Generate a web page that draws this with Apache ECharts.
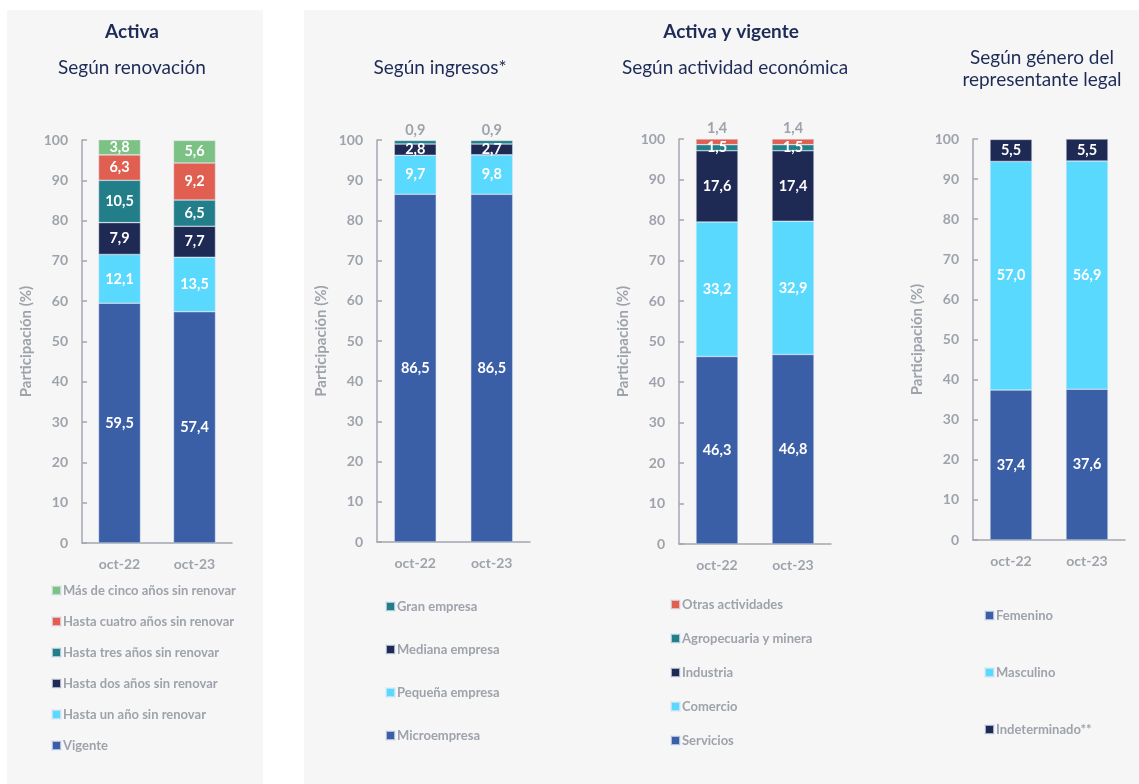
<!DOCTYPE html>
<html>
<head>
<meta charset="utf-8">
<style>
html,body{margin:0;padding:0;background:#ffffff;}
#chart{width:1139px;height:784px;}
</style>
<script src="https://cdn.jsdelivr.net/npm/echarts@6/dist/echarts.min.js"></script>
</head>
<body>
<div id="chart"></div>
<script>
// ---- Data ----
var categories = ['oct-22', 'oct-23'];
var yTicks = [0, 10, 20, 30, 40, 50, 60, 70, 80, 90, 100];

// Panel 1: Activa - Según renovación
var vigente = [59.5, 57.4];
var hastaUnAno = [12.1, 13.5];
var hastaDosAnos = [7.9, 7.7];
var hastaTresAnos = [10.5, 6.5];
var hastaCuatroAnos = [6.3, 9.2];
var masDeCinco = [3.8, 5.6];

// Panel 2: Según ingresos*
var microempresa = [86.5, 86.5];
var pequenaEmpresa = [9.7, 9.8];
var medianaEmpresa = [2.8, 2.7];
var granEmpresa = [0.9, 0.9];

// Panel 3: Según actividad económica
var servicios = [46.3, 46.8];
var comercio = [33.2, 32.9];
var industria = [17.6, 17.4];
var agropecuaria = [1.5, 1.5];
var otrasActividades = [1.4, 1.4];

// Panel 4: Según género del representante legal
var femenino = [37.4, 37.6];
var masculino = [57.0, 56.9];
var indeterminado = [5.5, 5.5];

// ---- Styles ----
var C_BLUE = '#3a5fa6', C_CYAN = '#5ad9fe', C_NAVY = '#1f2a54', C_TEAL = '#227f8a', C_RED = '#e05f51', C_GREEN = '#7cc284';
var GREY = '#9ea3ab', AXIS = '#a3a8b0', NAVY_T = '#1e2b57';
var FONT = 'Lato, "Open Sans", sans-serif';

function fmt(p) { return p.value.toFixed(1).replace('.', ','); }

var grids = [
  {left: 82, top: 140, width: 150, height: 403},
  {left: 377, top: 140, width: 153, height: 402},
  {left: 679, top: 139, width: 152, height: 405},
  {left: 973, top: 139, width: 152, height: 401}
];

var xAxes = [], yAxes = [];
grids.forEach(function (g, i) {
  xAxes.push({
    type: 'category', gridIndex: i, data: categories,
    axisLine: {show: true, lineStyle: {color: AXIS, width: 1.5}},
    axisTick: {show: false},
    axisLabel: {color: GREY, fontFamily: FONT, fontWeight: 'bold', fontSize: 14, margin: 14}
  });
  yAxes.push({
    type: 'value', gridIndex: i, min: yTicks[0], max: yTicks[yTicks.length - 1], interval: yTicks[1] - yTicks[0],
    name: 'Participación (%)', nameLocation: 'middle', nameGap: 48, nameRotate: 90,
    nameTextStyle: {color: GREY, fontFamily: FONT, fontWeight: 'bold', fontSize: 15},
    axisLine: {show: true, lineStyle: {color: AXIS, width: 1.5}},
    axisTick: {show: true, inside: true, length: 5, lineStyle: {color: AXIS, width: 1.5}},
    splitLine: {show: false},
    axisLabel: {color: GREY, fontFamily: FONT, fontWeight: 'bold', fontSize: 14, margin: 14}
  });
});

function bar(name, data, color, idx, stack, small) {
  return {
    name: name, type: 'bar', stack: stack, data: data, xAxisIndex: idx, yAxisIndex: idx,
    barWidth: 42,
    itemStyle: {color: color, borderColor: 'rgba(225,232,245,0.7)', borderWidth: 0.6},
    label: small ? {show: true, position: 'top', distance: 3, color: GREY, fontFamily: FONT, fontWeight: 'bold', fontSize: 14.5, formatter: fmt}
                 : {show: true, position: 'inside', color: '#ffffff', fontFamily: FONT, fontWeight: 'bold', fontSize: 14.5, formatter: fmt},
    emphasis: {disabled: true}
  };
}

var series = [
  bar('Vigente', vigente, C_BLUE, 0, 's1'),
  bar('Hasta un año sin renovar', hastaUnAno, C_CYAN, 0, 's1'),
  bar('Hasta dos años sin renovar', hastaDosAnos, C_NAVY, 0, 's1'),
  bar('Hasta tres años sin renovar', hastaTresAnos, C_TEAL, 0, 's1'),
  bar('Hasta cuatro años sin renovar', hastaCuatroAnos, C_RED, 0, 's1'),
  bar('Más de cinco años sin renovar', masDeCinco, C_GREEN, 0, 's1'),

  bar('Microempresa', microempresa, C_BLUE, 1, 's2'),
  bar('Pequeña empresa', pequenaEmpresa, C_CYAN, 1, 's2'),
  bar('Mediana empresa', medianaEmpresa, C_NAVY, 1, 's2'),
  bar('Gran empresa', granEmpresa, C_TEAL, 1, 's2', true),

  bar('Servicios', servicios, C_BLUE, 2, 's3'),
  bar('Comercio', comercio, C_CYAN, 2, 's3'),
  bar('Industria', industria, C_NAVY, 2, 's3'),
  bar('Agropecuaria y minera', agropecuaria, C_TEAL, 2, 's3'),
  bar('Otras actividades', otrasActividades, C_RED, 2, 's3', true),

  bar('Femenino', femenino, C_BLUE, 3, 's4'),
  bar('Masculino', masculino, C_CYAN, 3, 's4'),
  bar('Indeterminado**', indeterminado, C_NAVY, 3, 's4')
];

function legend(left, top, gap, names) {
  return {
    orient: 'vertical', left: left, top: top, itemGap: gap, itemWidth: 9, itemHeight: 9,
    icon: 'rect', selectedMode: false, data: names,
    textStyle: {color: GREY, fontFamily: FONT, fontWeight: 'bold', fontSize: 13, padding: [0, 0, 0, -3]}
  };
}

var legends = [
  legend(46, 579, 18, ['Más de cinco años sin renovar', 'Hasta cuatro años sin renovar', 'Hasta tres años sin renovar', 'Hasta dos años sin renovar', 'Hasta un año sin renovar', 'Vigente']),
  legend(380, 595, 30, ['Gran empresa', 'Mediana empresa', 'Pequeña empresa', 'Microempresa']),
  legend(665, 593, 21, ['Otras actividades', 'Agropecuaria y minera', 'Industria', 'Comercio', 'Servicios']),
  legend(979, 604, 44, ['Femenino', 'Masculino', 'Indeterminado**'])
];

function txt(x, y, s, bold) {
  return {type: 'text', x: x, y: y, silent: true, z: 10,
    style: {text: s, fill: NAVY_T, font: (bold ? 'bold ' : '') + '19px ' + FONT, textAlign: 'center', textVerticalAlign: 'middle'}};
}

var option = {
  backgroundColor: '#ffffff',
  animation: false,
  grid: grids,
  xAxis: xAxes,
  yAxis: yAxes,
  series: series,
  legend: legends,
  graphic: [
    {type: 'rect', shape: {x: 7, y: 10, width: 256, height: 774}, style: {fill: '#f6f6f6'}, z: -100, silent: true},
    {type: 'rect', shape: {x: 304, y: 10, width: 835, height: 774}, style: {fill: '#f6f6f6'}, z: -100, silent: true},
    txt(132, 32, 'Activa', true),
    txt(132, 68, 'Según renovación', false),
    txt(731, 32, 'Activa y vigente', true),
    txt(440, 68, 'Según ingresos*', false),
    txt(735, 68, 'Según actividad económica', false),
    txt(1042, 58, 'Según género del', false),
    txt(1042, 80, 'representante legal', false)
  ]
};

var chart = echarts.init(document.getElementById('chart'), null, {renderer: 'canvas'});
chart.setOption(option);
</script>
</body>
</html>
